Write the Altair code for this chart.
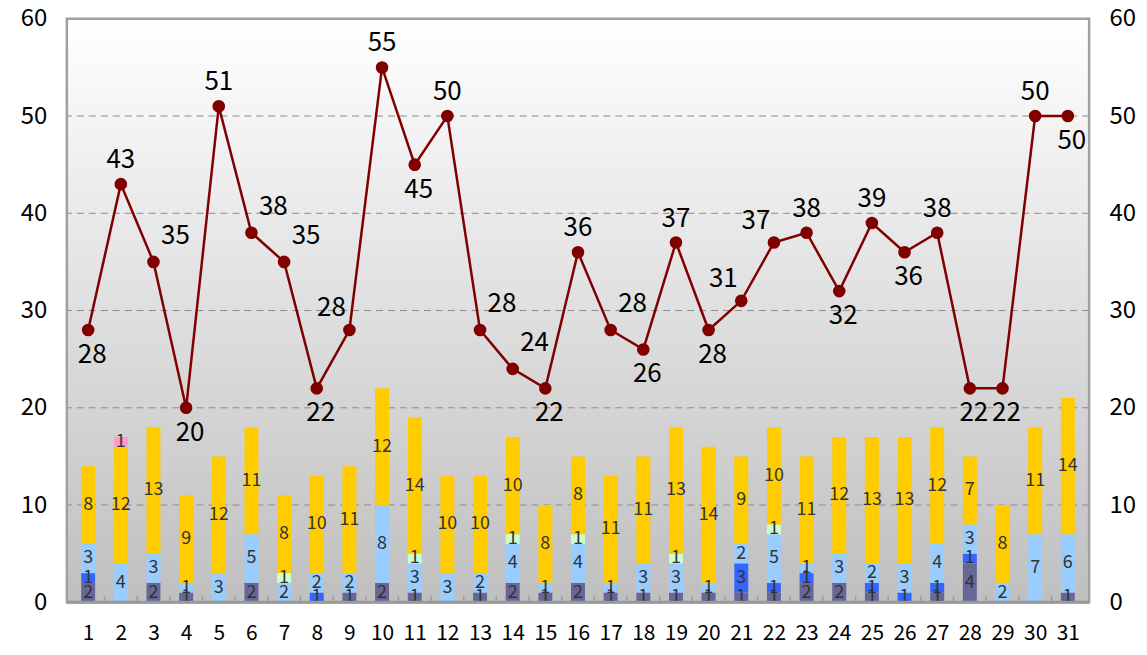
import altair as alt
import pandas as pd

days = list(range(1, 32))
line_values = [28, 43, 35, 20, 51, 38, 35, 22, 28, 55, 45, 50, 28, 24, 22, 36,
               28, 26, 37, 28, 31, 37, 38, 32, 39, 36, 38, 22, 22, 50, 50]
s_dark = [2, 0, 2, 1, 0, 2, 0, 0, 1, 2, 1, 0, 1, 2, 1, 2, 1, 1, 1, 1, 1, 1, 2, 2, 1, 0, 1, 4, 0, 0, 1]
s_blue = [1, 0, 0, 0, 0, 0, 0, 1, 0, 0, 0, 0, 0, 0, 0, 0, 0, 0, 0, 0, 3, 1, 1, 0, 1, 1, 1, 1, 0, 0, 0]
s_light = [3, 4, 3, 1, 3, 5, 2, 2, 2, 8, 3, 3, 2, 4, 1, 4, 1, 3, 3, 1, 2, 5, 1, 3, 2, 3, 4, 3, 2, 7, 6]
s_green = [0, 0, 0, 0, 0, 0, 1, 0, 0, 0, 1, 0, 0, 1, 0, 1, 0, 0, 1, 0, 0, 1, 0, 0, 0, 0, 0, 0, 0, 0, 0]
s_yellow = [8, 12, 13, 9, 12, 11, 8, 10, 11, 12, 14, 10, 10, 10, 8, 8, 11, 11, 13, 14, 9, 10, 11, 12, 13, 13, 12, 7, 8, 11, 14]
s_pink = [0, 1, 0, 0, 0, 0, 0, 0, 0, 0, 0, 0, 0, 0, 0, 0, 0, 0, 0, 0, 0, 0, 0, 0, 0, 0, 0, 0, 0, 0, 0]
y_ticks = [0, 10, 20, 30, 40, 50, 60]

series_names = ["s1", "s2", "s3", "s4", "s5", "s6"]
series_colors = ["#666699", "#3366FF", "#99CCFF", "#CCFFCC", "#FFCC00", "#FF99CC"]
series_data = [s_dark, s_blue, s_light, s_green, s_yellow, s_pink]

W, H = 1025, 585
FONT = "Noto Sans CJK JP"

# stacked bar table
rows = []
for i, d in enumerate(days):
    base = 0
    for k, (name, vals) in enumerate(zip(series_names, series_data)):
        v = vals[i]
        if v > 0:
            rows.append({"day": d, "series": name, "order": k, "v": v,
                         "y0": base, "y1": base + v, "mid": base + v / 2})
        base += v
bars_df = pd.DataFrame(rows)

# line table with label placement derived from neighbours
lrows = []
n = len(line_values)
for i, (d, v) in enumerate(zip(days, line_values)):
    prev = line_values[i - 1] if i > 0 else v
    nxt = line_values[i + 1] if i < n - 1 else v
    up, down = v - prev, v - nxt
    if up >= 0 and down >= 0 and (up + down) > 0:
        pos = "above"
    elif up <= 0 and down <= 0:
        pos = "below"
    elif up > 0:
        pos = "aboveleft"
    else:
        pos = "aboveright"
    lrows.append({"day": d, "v": v, "pos": pos})
line_df = pd.DataFrame(lrows)

xscale = alt.Scale(domain=[0.5, 31.5], nice=False, zero=False)
yscale = alt.Scale(domain=[0, 60], nice=False)

one = pd.DataFrame({"a": [0]})

grad = alt.LinearGradient(
    gradient="linear",
    stops=[alt.GradientStop(color="#ffffff", offset=0),
           alt.GradientStop(color="#bfbfbf", offset=1)],
    x1=0, x2=0, y1=0, y2=1,
)
bg = alt.Chart(one).mark_rect(fill=grad).encode(
    x=alt.value(0), x2=alt.value(W), y=alt.value(0), y2=alt.value(H)
)

left_axis = alt.Axis(values=y_ticks, title=None, ticks=False, domain=False, grid=False,
                     labelFontSize=24, labelFont=FONT, labelColor="#000000",
                     labelPadding=20, orient="left")
x_axis = alt.Axis(values=days, title=None, ticks=False, domain=False, grid=False,
                  labelFontSize=21, labelFont=FONT, labelColor="#000000",
                  labelPadding=20, format="d", labelOverlap=False,
                  labelBaseline="top")

grid_df = pd.DataFrame({"g": [t for t in y_ticks if 0 < t < 60]})
grid = alt.Chart(grid_df).mark_rule(color="#8c8c8c", strokeDash=[7, 5], strokeWidth=1).encode(
    y=alt.Y("g:Q", scale=yscale, axis=left_axis),
)

bars = alt.Chart(bars_df).mark_bar(size=14).encode(
    x=alt.X("day:Q", scale=xscale, axis=x_axis),
    y=alt.Y("y0:Q", scale=yscale, axis=left_axis),
    y2="y1:Q",
    color=alt.Color("series:N", scale=alt.Scale(domain=series_names, range=series_colors), legend=None),
)

bar_text = alt.Chart(bars_df).mark_text(fontSize=18, font=FONT, color="#333333",
                                        baseline="middle", align="center").encode(
    x=alt.X("day:Q", scale=xscale, axis=x_axis),
    y=alt.Y("mid:Q", scale=yscale, axis=left_axis),
    text=alt.Text("v:Q"),
)

tick_df = pd.DataFrame({"b": [d + 0.5 for d in days[:-1]]})
ticks = alt.Chart(tick_df).mark_rule(color="#9a9a9a", strokeWidth=1.5).encode(
    x=alt.X("b:Q", scale=xscale, axis=x_axis),
    y=alt.value(H - 6), y2=alt.value(H),
)

right_axis = alt.Axis(values=y_ticks, title=None, ticks=False, domain=False, grid=False,
                      labelFontSize=24, labelFont=FONT, labelColor="#000000",
                      labelPadding=20, orient="right")

line = alt.Chart(line_df).mark_line(color="#800000", strokeWidth=2.5).encode(
    x=alt.X("day:Q", scale=xscale, axis=x_axis),
    y=alt.Y("v:Q", scale=yscale, axis=right_axis),
)
pts = alt.Chart(line_df).mark_circle(color="#800000", size=160, opacity=1).encode(
    x=alt.X("day:Q", scale=xscale, axis=x_axis),
    y=alt.Y("v:Q", scale=yscale, axis=right_axis),
)

offsets = {"above": (0, -24), "below": (4, 25), "aboveleft": (-18, -22), "aboveright": (22, -26)}
label_layers = []
for pos, (dx, dy) in offsets.items():
    label_layers.append(
        alt.Chart(line_df).transform_filter(alt.datum.pos == pos).mark_text(
            fontSize=26, font=FONT, color="#000000", dx=dx, dy=dy,
            align="center", baseline="middle").encode(
            x=alt.X("day:Q", scale=xscale, axis=x_axis),
            y=alt.Y("v:Q", scale=yscale, axis=right_axis),
            text=alt.Text("v:Q"),
        )
    )

frame = alt.Chart(one).mark_rect(filled=False, stroke="#a0a0a0", strokeWidth=2.5).encode(
    x=alt.value(0), x2=alt.value(W), y=alt.value(0), y2=alt.value(H)
)
bottom = alt.Chart(one).mark_rule(color="#999999", strokeWidth=3).encode(
    x=alt.value(0), x2=alt.value(W), y=alt.value(H)
)

left_part = alt.layer(bg, grid, bars, bar_text, ticks)
right_part = alt.layer(line, pts, *label_layers)

chart = alt.layer(left_part, right_part, frame, bottom).resolve_scale(y="independent").properties(
    width=W, height=H,
    padding={"left": 59, "top": 10, "right": 50, "bottom": 44},
    autosize=alt.AutoSizeParams(type="none"),
).configure_view(stroke=None)

chart.save("out.html", embed_options={"renderer": "svg", "actions": False})
